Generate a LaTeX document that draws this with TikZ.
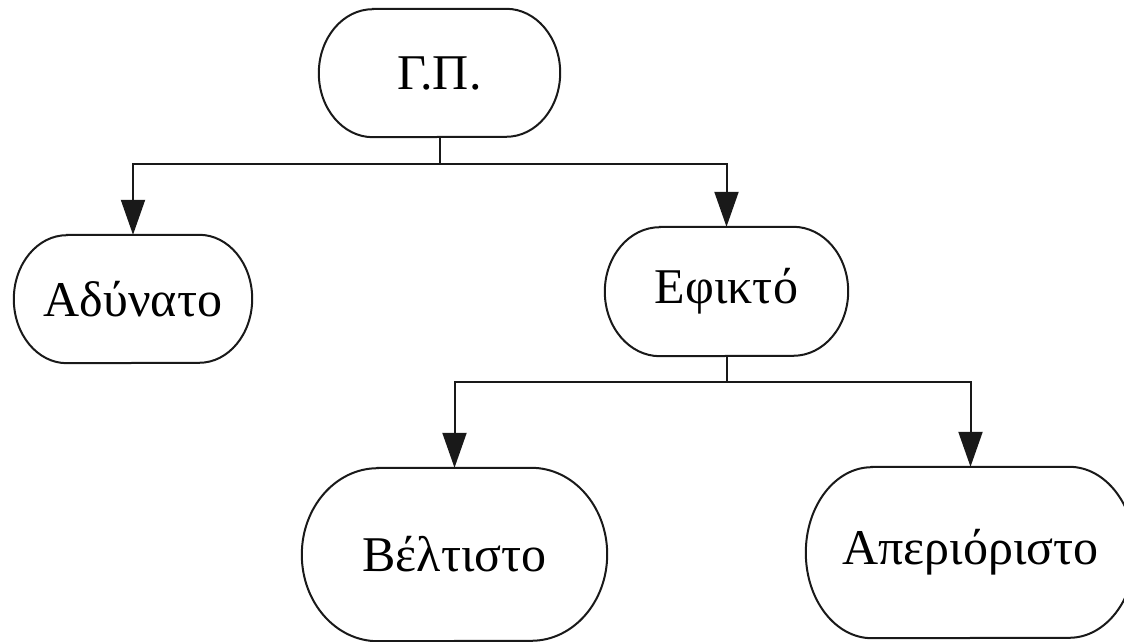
\documentclass[tikz,border=0pt]{standalone}
\usepackage{fontspec}
\setmainfont{Liberation Serif}
\usetikzlibrary{arrows.meta}
\tikzset{
  box/.style={draw=none, inner sep=0pt, font=\fontsize{50}{60}\selectfont},
  outline/.style={draw=black!90, line width=2pt},
  conn/.style={draw=black!90, line width=2pt},
  arr/.style={conn, -{Triangle[width=24pt,length=35pt]}},
}
% #1 node name, #2 x radius, #3 y radius
\newcommand\stadiumoutline[3]{%
  \draw[outline] ([xshift=#2]#1.north west) -- ([xshift=-#2]#1.north east)
    arc[start angle=90, end angle=-90, x radius=#2, y radius=#3]
    -- ([xshift=#2]#1.south west)
    arc[start angle=270, end angle=90, x radius=#2, y radius=#3] -- cycle;}
\begin{document}
\begin{tikzpicture}[x=1pt,y=1pt]
\useasboundingbox (0,0) rectangle (1124,642);
\clip (0,0) rectangle (1124,642);
\node[box, minimum width=241pt, minimum height=128pt] (gp) at (439.5,569) {Γ.Π.};
\node[box, minimum width=238pt, minimum height=128pt] (adu) at (133,343) {Αδύνατο};
\node[box, minimum width=243pt, minimum height=129pt] (efi) at (726.5,350.5) {Εφικτό};
\node[box, minimum width=305pt, minimum height=173pt] (bel) at (454.5,87.5) {Βέλτιστο};
\node[box, minimum width=329pt, minimum height=171pt] (ape) at (970.5,89.5) {Απεριόριστο};
\stadiumoutline{gp}{54pt}{64pt}
\stadiumoutline{adu}{53pt}{64pt}
\stadiumoutline{efi}{55pt}{64.5pt}
\stadiumoutline{bel}{76pt}{86.5pt}
\stadiumoutline{ape}{66pt}{85.5pt}
\coordinate (j1) at (439.5,478);
\coordinate (j2) at (726.5,260);
\draw[conn] (gp.south) -- (j1);
\draw[arr] (j1) -| (adu.north);
\draw[arr] (j1) -| (efi.north);
\draw[conn] (efi.south) -- (j2);
\draw[arr] (j2) -| (bel.north);
\draw[arr] (j2) -| (ape.north);
\end{tikzpicture}
\end{document}
